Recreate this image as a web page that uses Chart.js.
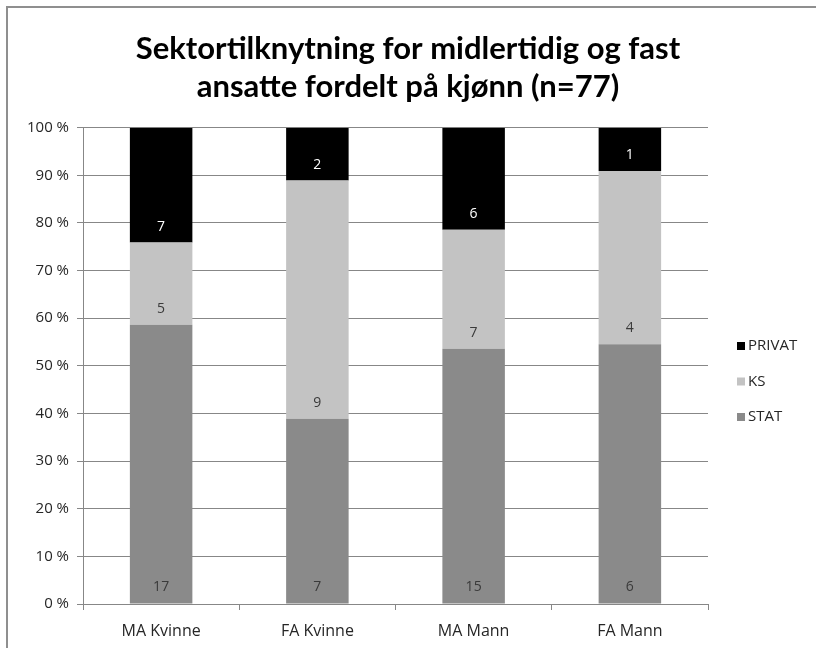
<!DOCTYPE html>
<html>
<head>
<meta charset="utf-8">
<script src="https://cdn.jsdelivr.net/npm/chart.js@4"></script>
<style>
  html, body { margin: 0; padding: 0; background: #fff; }
  #wrap { position: relative; width: 816px; height: 648px; }
</style>
</head>
<body>
<div id="wrap"><canvas id="c" width="816" height="648"></canvas></div>
<script>
// Employees by sector, split by contract type and gender (counts)
const categories = ['MA Kvinne', 'FA Kvinne', 'MA Mann', 'FA Mann'];
const statCounts = [17, 7, 15, 6];
const ksCounts = [5, 9, 7, 4];
const privatCounts = [7, 2, 6, 1];
const yTicks = [0, 10, 20, 30, 40, 50, 60, 70, 80, 90, 100];

const totals = categories.map((_, i) => statCounts[i] + ksCounts[i] + privatCounts[i]);
const toShare = arr => arr.map((v, i) => v / totals[i] * 100);

const FONT = "'Open Sans', 'DejaVu Sans', sans-serif";
const GRID = '#878787';

const series = [
  { label: 'STAT', counts: statCounts, color: '#8a8a8a', text: '#3a3a3a' },
  { label: 'KS', counts: ksCounts, color: '#c3c3c3', text: '#3a3a3a' },
  { label: 'PRIVAT', counts: privatCounts, color: '#000000', text: '#ffffff' }
];

// frame + white background
const framePlugin = {
  id: 'frame',
  beforeDraw(chart) {
    const ctx = chart.ctx;
    ctx.save();
    ctx.fillStyle = '#fff';
    ctx.fillRect(0, 0, chart.width, chart.height);
    ctx.strokeStyle = '#8f8f8f';
    ctx.lineWidth = 2;
    ctx.beginPath();
    ctx.moveTo(7, chart.height);
    ctx.lineTo(7, 7);
    ctx.lineTo(chart.width, 7);
    ctx.stroke();
    ctx.restore();
  }
};

// count labels near the base of each segment
const countLabels = {
  id: 'countLabels',
  afterDatasetsDraw(chart) {
    const ctx = chart.ctx;
    ctx.save();
    ctx.font = '14px ' + FONT;
    ctx.textAlign = 'center';
    ctx.textBaseline = 'middle';
    chart.data.datasets.forEach((ds, di) => {
      const meta = chart.getDatasetMeta(di);
      meta.data.forEach((bar, i) => {
        ctx.fillStyle = ds.labelColor;
        ctx.fillText(String(ds.counts[i]), bar.x, bar.base - 16);
      });
    });
    ctx.restore();
  }
};

// legend at the right, top-down in reverse stacking order
const sideLegend = {
  id: 'sideLegend',
  afterDraw(chart) {
    const ctx = chart.ctx;
    ctx.save();
    ctx.font = '15px ' + FONT;
    ctx.textBaseline = 'middle';
    ctx.textAlign = 'left';
    const items = chart.data.datasets.slice().reverse();
    items.forEach((ds, k) => {
      const y = 346 + k * 35.5;
      ctx.fillStyle = ds.backgroundColor;
      ctx.fillRect(737, y - 4, 8, 8);
      ctx.fillStyle = '#262626';
      ctx.fillText(ds.label, 748, y);
    });
    ctx.restore();
  }
};

new Chart(document.getElementById('c'), {
  type: 'bar',
  data: {
    labels: categories,
    datasets: series.map(s => ({
      label: s.label,
      data: toShare(s.counts),
      counts: s.counts,
      labelColor: s.text,
      backgroundColor: s.color,
      borderWidth: 0,
      categoryPercentage: 1.0,
      barPercentage: 0.4
    }))
  },
  options: {
    responsive: false,
    animation: false,
    layout: { padding: 0 },
    plugins: {
      legend: { display: false },
      tooltip: { enabled: false },
      title: {
        display: true,
        text: ['Sektortilknytning for midlertidig og fast', 'ansatte fordelt på kjønn (n=77)'],
        color: '#000',
        font: { family: "'Lato', sans-serif", size: 31, weight: 'bold', lineHeight: 1.22 },
        padding: { top: 30, bottom: 22 }
      }
    },
    scales: {
      x: {
        stacked: true,
        offset: true,
        grid: { display: true, drawOnChartArea: false, drawTicks: true, tickLength: 6, color: GRID, offset: true },
        border: { display: true, color: GRID, width: 1 },
        ticks: { color: '#262626', font: { family: FONT, size: 16 }, padding: 12 },
        afterFit(s) { s.height = 44; }
      },
      y: {
        stacked: true,
        min: 0,
        max: 100,
        afterBuildTicks(s) { s.ticks = yTicks.map(v => ({ value: v })); },
        grid: { color: GRID, lineWidth: 1, tickLength: 6, drawTicks: true },
        border: { display: true, color: GRID, width: 1 },
        ticks: {
          color: '#262626',
          font: { family: FONT, size: 15 },
          padding: 8,
          callback: v => v + ' %'
        },
        afterFit(s) { s.width = 83; }
      },
      // empty right-hand strip that leaves room for the legend
      legendSpace: {
        type: 'linear',
        position: 'right',
        display: true,
        grid: { display: false, drawTicks: false },
        border: { display: false },
        ticks: { display: false },
        afterFit(s) { s.width = 108; }
      }
    }
  },
  plugins: [framePlugin, countLabels, sideLegend]
});
</script>
</body>
</html>
